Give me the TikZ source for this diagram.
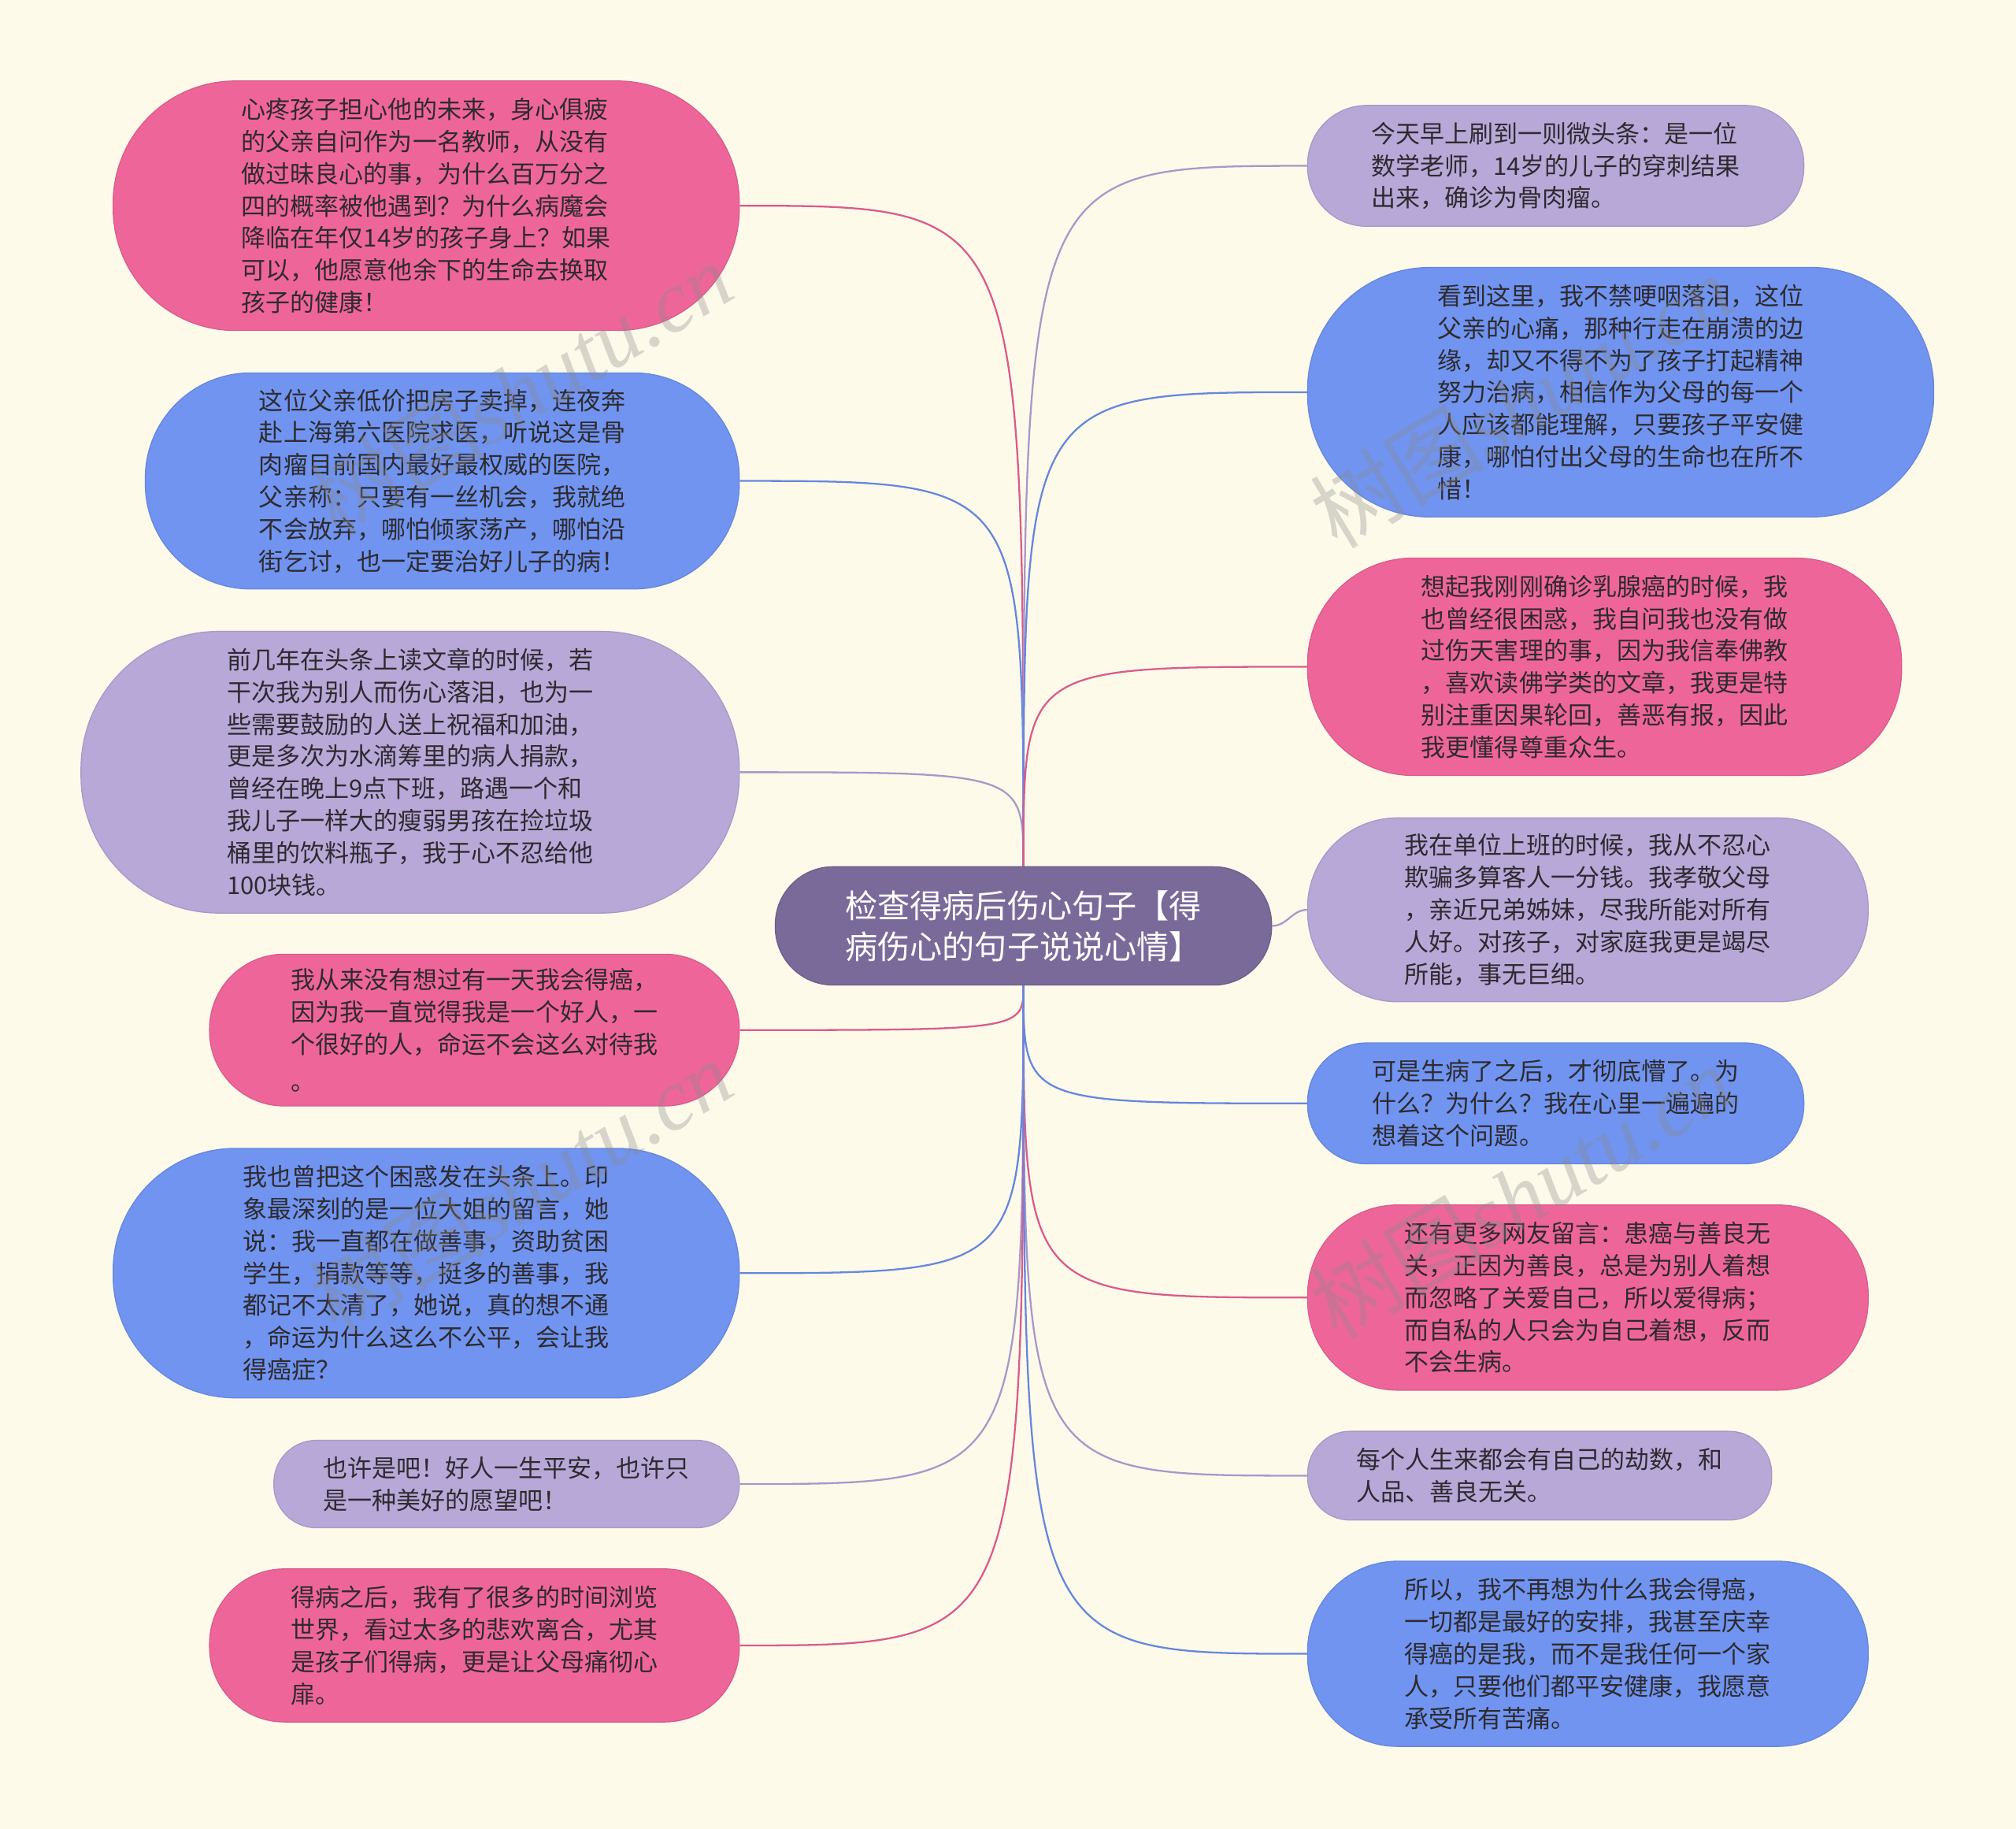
\documentclass[tikz,border=0pt]{standalone}
\usepackage{fontspec}
\setmainfont{Noto Sans CJK SC}
\newfontfamily\cjk{Noto Sans CJK SC}
\newfontfamily\wmlat{Liberation Serif}
\usetikzlibrary{backgrounds}
\definecolor{bgc}{HTML}{FEFAEA}
\definecolor{pinkf}{HTML}{EE6699}
\definecolor{pinkd}{HTML}{D95C8C}
\definecolor{bluef}{HTML}{7094F0}
\definecolor{blued}{HTML}{6587DD}
\definecolor{lavf}{HTML}{B8A8D8}
\definecolor{lavd}{HTML}{A898C8}
\definecolor{cenf}{HTML}{7A6A9A}
\definecolor{txtc}{HTML}{2E2A2E}
\definecolor{wmc}{HTML}{8A8A8A}
\tikzset{
  leaf/.style={font=\cjk\fontsize{9.5}{12.5}\selectfont, text=txtc, align=left, inner sep=0pt, line width=0.4pt},
  pinkbox/.style={leaf, fill=pinkf, draw=pinkd},
  bluebox/.style={leaf, fill=bluef, draw=blued},
  lavbox/.style={leaf, fill=lavf, draw=lavd},
  cenbox/.style={font=\cjk\fontsize{12.6}{16}\selectfont, text=white, align=left, inner sep=0pt, fill=cenf, draw=cenf!90!black, line width=0.4pt},
  pill/.style n args={3}{minimum width=#1pt, minimum height=#2pt, rounded corners=#3pt},
  conn/.style={line width=0.7pt},
  pinkline/.style={conn, draw=pinkd},
  blueline/.style={conn, draw=blued},
  lavline/.style={conn, draw=lavd},
  wm/.style={font=\fontsize{34}{34}\selectfont, text=wmc, opacity=0.33, rotate=31, inner sep=0pt}
}
\begin{document}
\begin{tikzpicture}[x=0.5pt,y=0.5pt]
\useasboundingbox (0,0) rectangle (1568,1422);

% centre
\node[cenbox, pill={193}{46}{22.5}] (C) at (796,702) {检查得病后伤心句子【得\\病伤心的句子说说心情】};

% left branch
\node[pinkbox, pill={243.5}{97}{47.5}] (L1) at (331.5,1262) {心疼孩子担心他的未来，身心俱疲\\的父亲自问作为一名教师，从没有\\做过昧良心的事，为什么百万分之\\四的概率被他遇到？为什么病魔会\\降临在年仅14岁的孩子身上？如果\\可以，他愿意他余下的生命去换取\\孩子的健康！};
\node[bluebox, pill={231}{84}{41}] (L2) at (344,1048) {这位父亲低价把房子卖掉，连夜奔\\赴上海第六医院求医，听说这是骨\\肉瘤目前国内最好最权威的医院，\\父亲称：只要有一丝机会，我就绝\\不会放弃，哪怕倾家荡产，哪怕沿\\街乞讨，也一定要治好儿子的病！};
\node[lavbox, pill={256}{109.5}{53.5}] (L3) at (319,821.5) {前几年在头条上读文章的时候，若\\干次我为别人而伤心落泪，也为一\\些需要鼓励的人送上祝福和加油，\\更是多次为水滴筹里的病人捐款，\\曾经在晚上9点下班，路遇一个和\\我儿子一样大的瘦弱男孩在捡垃圾\\桶里的饮料瓶子，我于心不忍给他\\100块钱。};
\node[pinkbox, pill={206}{59}{29}] (L4) at (369,621) {我从来没有想过有一天我会得癌，\\因为我一直觉得我是一个好人，一\\个很好的人，命运不会这么对待我\\[2pt]。};
\node[bluebox, pill={243.5}{97}{47.5}] (L5) at (331.5,432) {我也曾把这个困惑发在头条上。印\\象最深刻的是一位大姐的留言，她\\说：我一直都在做善事，资助贫困\\学生，捐款等等，挺多的善事，我\\都记不太清了，她说，真的想不通\\，命运为什么这么不公平，会让我\\得癌症？};
\node[lavbox, pill={181}{34}{16.5}] (L6) at (394,268) {也许是吧！好人一生平安，也许只\\是一种美好的愿望吧！};
\node[pinkbox, pill={206}{59.5}{29}] (L7) at (369,142.5) {得病之后，我有了很多的时间浏览\\世界，看过太多的悲欢离合，尤其\\是孩子们得病，更是让父母痛彻心\\扉。};

% right branch
\node[lavbox, pill={193}{47}{23}] (R1) at (1210,1293) {今天早上刷到一则微头条：是一位\\数学老师，14岁的儿子的穿刺结果\\出来，确诊为骨肉瘤。};
\node[bluebox, pill={243.5}{97}{47.5}] (R2) at (1260.5,1117) {看到这里，我不禁哽咽落泪，这位\\父亲的心痛，那种行走在崩溃的边\\缘，却又不得不为了孩子打起精神\\努力治病，相信作为父母的每一个\\人应该都能理解，只要孩子平安健\\康，哪怕付出父母的生命也在所不\\惜！};
\node[pinkbox, pill={231}{84.5}{41}] (R3) at (1248,903.5) {想起我刚刚确诊乳腺癌的时候，我\\也曾经很困惑，我自问我也没有做\\过伤天害理的事，因为我信奉佛教\\，喜欢读佛学类的文章，我更是特\\别注重因果轮回，善恶有报，因此\\我更懂得尊重众生。};
\node[lavbox, pill={218}{71.5}{35}] (R4) at (1235,714.5) {我在单位上班的时候，我从不忍心\\欺骗多算客人一分钱。我孝敬父母\\，亲近兄弟姊妹，尽我所能对所有\\人好。对孩子，对家庭我更是竭尽\\所能，事无巨细。};
\node[bluebox, pill={193}{47}{23}] (R5) at (1210,564) {可是生病了之后，才彻底懵了。为\\什么？为什么？我在心里一遍遍的\\想着这个问题。};
\node[pinkbox, pill={218}{72}{35}] (R6) at (1235,413) {还有更多网友留言：患癌与善良无\\关，正因为善良，总是为别人着想\\而忽略了关爱自己，所以爱得病；\\而自私的人只会为自己着想，反而\\不会生病。};
\node[lavbox, pill={180.5}{34.5}{16.5}] (R7) at (1197.5,274.5) {每个人生来都会有自己的劫数，和\\人品、善良无关。};
\node[bluebox, pill={218}{72}{35}] (R8) at (1235,136) {所以，我不再想为什么我会得癌，\\一切都是最好的安排，我甚至庆幸\\得癌的是我，而不是我任何一个家\\人，只要他们都平安健康，我愿意\\承受所有苦痛。};

% watermarks
\node[wm] (W1) at (405,1120) {树图{\wmlat\itshape shutu.cn}};
\node[wm] (W2) at (405,500) {树图{\wmlat\itshape shutu.cn}};
\node[wm] (W3) at (1183,1110) {树图{\wmlat\itshape shutu.cn}};
\node[wm] (W4) at (1183,495) {树图{\wmlat\itshape shutu.cn}};

\begin{pgfonlayer}{background}
\fill[bgc] (0,0) rectangle (1568,1422);
\draw[pinkline] (C.north) .. controls (C.north |- L1.east) .. (L1.east);
\draw[blueline] (C.north) .. controls (C.north |- L2.east) .. (L2.east);
\draw[lavline] (C.north) .. controls (C.north |- L3.east) .. (L3.east);
\draw[pinkline] (C.south) .. controls (C.south |- L4.east) .. (L4.east);
\draw[blueline] (C.south) .. controls (C.south |- L5.east) .. (L5.east);
\draw[lavline] (C.south) .. controls (C.south |- L6.east) .. (L6.east);
\draw[pinkline] (C.south) .. controls (C.south |- L7.east) .. (L7.east);
\draw[lavline] (C.north) .. controls (C.north |- R1.west) .. (R1.west);
\draw[blueline] (C.north) .. controls (C.north |- R2.west) .. (R2.west);
\draw[pinkline] (C.north) .. controls (C.north |- R3.west) .. (R3.west);
\draw[lavline] (C.east) to[out=0,in=180] (R4.west);
\draw[blueline] (C.south) .. controls (C.south |- R5.west) .. (R5.west);
\draw[pinkline] (C.south) .. controls (C.south |- R6.west) .. (R6.west);
\draw[lavline] (C.south) .. controls (C.south |- R7.west) .. (R7.west);
\draw[blueline] (C.south) .. controls (C.south |- R8.west) .. (R8.west);
\end{pgfonlayer}
\end{tikzpicture}
\end{document}
